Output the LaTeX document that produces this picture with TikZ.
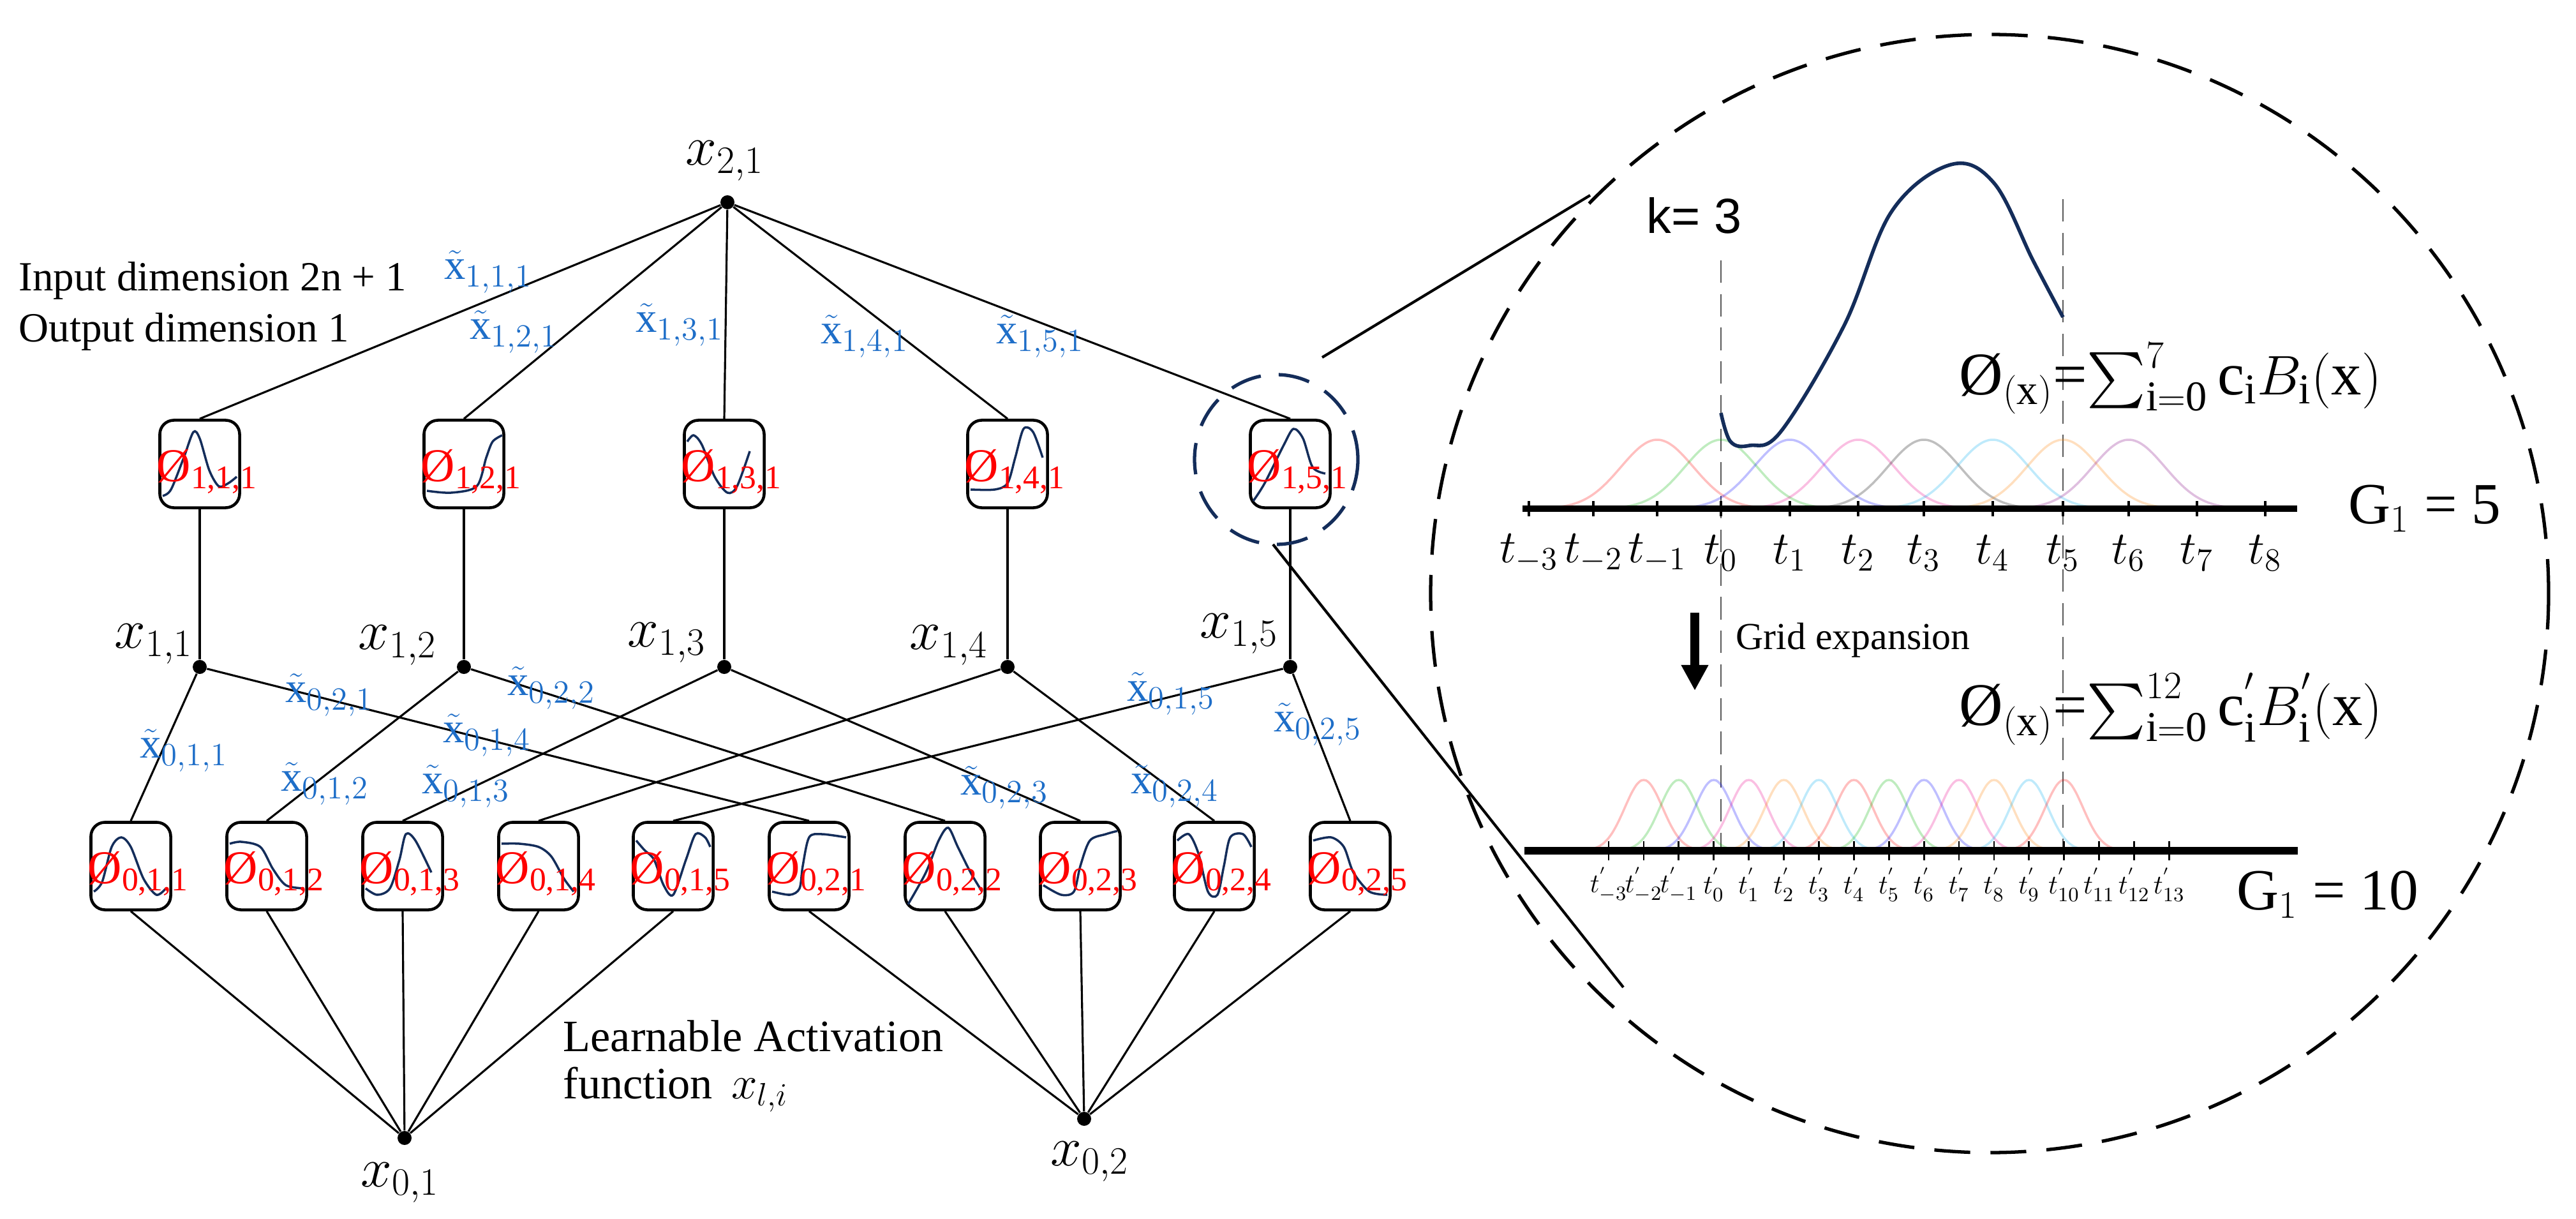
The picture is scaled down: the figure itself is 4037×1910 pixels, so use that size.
\documentclass[tikz,border=0pt]{standalone}
\usepackage{exscale}
\usepackage{fontspec}
\setmainfont{Liberation Serif}
\newfontfamily\sansf{Liberation Sans}
\usetikzlibrary{arrows.meta}
\definecolor{navy}{RGB}{20,45,90}
\definecolor{lblue}{RGB}{30,110,200}
\tikzset{
  dot/.style={circle,fill=black,inner sep=0pt,minimum size=0.22cm},
  act/.style={draw,line width=1.3pt,rounded corners=0.22cm,minimum width=1.25cm,minimum height=1.37cm,inner sep=0pt},
  edge/.style={line width=0.9pt},
  curve/.style={navy,line width=1pt},
  actlab/.style={text=red,font=\fontsize{21}{21}\selectfont,inner sep=0pt},
  wlab/.style={text=lblue,font=\fontsize{19}{19}\selectfont,inner sep=0pt},
  xlab/.style={font=\fontsize{25}{25}\selectfont,inner sep=0pt},
  tlab/.style={font=\fontsize{20}{20}\selectfont,inner sep=0pt},
  tlabs/.style={font=\fontsize{13}{13}\selectfont,inner sep=0pt},
  vdash/.style={gray!70!black,dashed,dash pattern=on 10pt off 5pt,line width=0.8pt},
}
\newcommand\actbox[5]{%
  \node[act] (#1) at (#2,#3) {};
  \begin{scope}[shift={(#2,#3)}]
    \draw[curve] plot[smooth] coordinates {#5};
    \node[actlab] at (12,12) {Ø\textsubscript{#4}};
  \end{scope}}
\begin{document}
\begin{tikzpicture}[x=0.01cm,y=-0.01cm]
\useasboundingbox (0,0) rectangle (4037,1910);

% ---- nodes
\node[dot] (x21) at (1140,317) {};
\node[xlab] at (1136,252) {$x_{2,1}$};
\foreach \i/\x in {1/313,2/727,3/1135,4/1579,5/2022}{
  \node[dot] (x1\i) at (\x,1045) {};
}
\node[xlab] at (241,1009) {$x_{1,1}$};
\node[xlab] at (623,1011) {$x_{1,2}$};
\node[xlab] at (1045,1007) {$x_{1,3}$};
\node[xlab] at (1487,1011) {$x_{1,4}$};
\node[xlab] at (1942,993) {$x_{1,5}$};
\node[dot] (x01) at (634,1783) {};
\node[dot] (x02) at (1699,1753) {};
\node[xlab] at (627,1853) {$x_{0,1}$};
\node[xlab] at (1708,1820) {$x_{0,2}$};

% ---- top activation boxes
\actbox{p11}{313}{727}{1,1,1}{(-58,50) (-45,40) (-25,-10) (-10,-50) (0,-40) (15,10) (30,35) (45,30) (58,20)}
\actbox{p21}{727}{727}{1,2,1}{(-58,42) (-20,45) (20,35) (35,-10) (45,-35) (60,-45)}
\actbox{p31}{1135}{727}{1,3,1}{(-58,-35) (-48,-45) (-35,-30) (-15,20) (5,45) (20,35) (40,-20)}
\actbox{p41}{1579}{727}{1,4,1}{(-58,40) (-20,40) (0,30) (12,-10) (25,-55) (40,-50) (55,-10)}
\actbox{p51}{2022}{727}{1,5,1}{(-58,58) (-40,30) (-10,-30) (5,-55) (20,-40) (35,5) (55,15)}

% ---- bottom activation boxes
\actbox{q11}{205}{1357}{0,1,1}{(-58,40) (-45,25) (-30,-30) (-15,-45) (0,-30) (20,20) (40,45) (55,35)}
\actbox{q12}{418}{1357}{0,1,2}{(-58,-35) (-40,-38) (-10,-30) (10,5) (30,30) (58,35)}
\actbox{q13}{631}{1357}{0,1,3}{(-58,35) (-40,45) (-20,35) (-5,-10) (5,-50) (20,-40) (45,10)}
\actbox{q14}{844}{1357}{0,1,4}{(-58,-35) (-30,-35) (0,-30) (20,-15) (40,20) (55,40)}
\actbox{q15}{1055}{1357}{0,1,5}{(-58,-40) (-45,-25) (-30,-10) (-15,30) (0,45) (20,-10) (35,-50) (50,-45) (58,-30)}
\actbox{q21}{1268}{1357}{0,2,1}{(-58,40) (-30,45) (-15,35) (-10,0) (0,-45) (20,-50) (58,-45)}
\actbox{q22}{1481}{1357}{0,2,2}{(-58,60) (-30,10) (-10,-40) (5,-60) (20,-30) (40,10) (58,40)}
\actbox{q23}{1693}{1357}{0,2,3}{(-58,30) (-30,45) (-10,40) (0,0) (15,-40) (40,-50) (58,-55)}
\actbox{q24}{1903}{1357}{0,2,4}{(-58,-40) (-40,-50) (-25,-20) (-10,40) (5,45) (15,0) (25,-45) (45,-50) (58,-30)}
\actbox{q25}{2116}{1357}{0,2,5}{(-58,-40) (-30,-45) (-10,-30) (5,10) (30,40) (58,45)}

% ---- connectors
\foreach \i in {1,...,5}{
  \draw[edge] (x21) -- (p\i1.north);
  \draw[edge] (p\i1.south) -- (x1\i);
  \draw[edge] (x1\i) -- (q1\i.north);
  \draw[edge] (x1\i) -- (q2\i.north);
  \draw[edge] (q1\i.south) -- (x01);
  \draw[edge] (q2\i.south) -- (x02);
}

% ---- weight labels
\node[wlab] at (765,426) {$\tilde{\mathrm{x}}_{1,1,1}$};
\node[wlab] at (805,520) {$\tilde{\mathrm{x}}_{1,2,1}$};
\node[wlab] at (1065,509) {$\tilde{\mathrm{x}}_{1,3,1}$};
\node[wlab] at (1355,527) {$\tilde{\mathrm{x}}_{1,4,1}$};
\node[wlab] at (1630,527) {$\tilde{\mathrm{x}}_{1,5,1}$};
\node[wlab] at (516,1089) {$\tilde{\mathrm{x}}_{0,2,1}$};
\node[wlab] at (864,1078) {$\tilde{\mathrm{x}}_{0,2,2}$};
\node[wlab] at (763,1152) {$\tilde{\mathrm{x}}_{0,1,4}$};
\node[wlab] at (288,1176) {$\tilde{\mathrm{x}}_{0,1,1}$};
\node[wlab] at (509,1228) {$\tilde{\mathrm{x}}_{0,1,2}$};
\node[wlab] at (730,1232) {$\tilde{\mathrm{x}}_{0,1,3}$};
\node[wlab] at (1574,1234) {$\tilde{\mathrm{x}}_{0,2,3}$};
\node[wlab] at (1841,1232) {$\tilde{\mathrm{x}}_{0,2,4}$};
\node[wlab] at (1835,1087) {$\tilde{\mathrm{x}}_{0,1,5}$};
\node[wlab] at (2065,1135) {$\tilde{\mathrm{x}}_{0,2,5}$};

% ---- texts
\node[anchor=west,inner sep=0pt,font=\fontsize{18.5}{18.5}\selectfont] at (29,440) {Input dimension 2n + 1};
\node[anchor=west,inner sep=0pt,font=\fontsize{18.5}{18.5}\selectfont] at (29,520) {Output dimension 1};
\node[anchor=west,inner sep=0pt,font=\fontsize{20}{20}\selectfont] at (882,1623) {Learnable Activation};
\node[anchor=west,inner sep=0pt,font=\fontsize{20}{20}\selectfont] at (882,1707) {function\, $x_{l,i}$};

% ---- zoom circles
\draw[navy,line width=1.5pt,dash pattern=on 14pt off 8pt] (2000,720) ellipse [x radius=128, y radius=133];
\draw[line width=1.5pt,dash pattern=on 16pt off 9pt] (3118,930) circle [radius=876];
\coordinate (ct) at (2492,306);
\coordinate (cb) at (2544,1547);
\coordinate (st) at (2072,560);
\coordinate (sb) at (1995,853);
\draw[line width=1.2pt] (st) -- (ct);
\draw[line width=1.2pt] (sb) -- (cb);

% ---- right panel: first grid
\node[anchor=west,inner sep=0pt,font=\sansf\fontsize{22}{22}\selectfont] at (2580,338) {k= 3};
\draw[vdash] (2697,408) -- (2697,1330);
\draw[vdash] (3233,312) -- (3233,1330);
\foreach \c/\col in {2597/red,2697/green!70!black,2805/blue,2912/magenta,3015/black,3123/cyan,3233/orange,3336/violet}{
  \draw[\col,opacity=0.25,line width=1pt] plot[smooth,domain=\c-210:\c+210,samples=40] (\x,{797-108*exp(-((\x-\c)/80)^2)});
}
\draw[line width=3pt] (2386,797) -- (3600,797);
\foreach \x/\l in {2396/-3,2497/-2,2597/-1,2697/0,2805/1,2912/2,3015/3,3123/4,3233/5,3336/6,3443/7,3550/8}{
  \draw[line width=1pt] (\x,785) -- (\x,809);
  \node[tlab] at (\x,867) {$t_{\l}$};
}
\draw[navy,line width=1.6pt] plot[smooth,tension=0.6] coordinates {(2697,647) (2712,692) (2742,698) (2791,676) (2890,510) (2964,332) (3057,258) (3125,287) (3186,408) (3233,497)};
\node[anchor=west,inner sep=0pt,font=\fontsize{27}{27}\selectfont] at (3070,593) {Ø$_{(\mathrm{x})}$=$\sum\nolimits_{\mathrm{i=0}}^{7}\mathrm{c_i}B_{\mathrm{i}}(\mathrm{x})$};
\node[anchor=west,inner sep=0pt,font=\fontsize{26}{26}\selectfont] at (3680,797) {G$_1$ = 5};

% ---- grid expansion
\draw[-{Triangle[width=0.4cm,length=0.4cm]},line width=4pt] (2656,960) -- (2656,1082);
\node[anchor=west,inner sep=0pt,font=\fontsize{17}{17}\selectfont] at (2720,1003) {Grid expansion};
\node[anchor=west,inner sep=0pt,font=\fontsize{27}{27}\selectfont] at (3070,1111) {Ø$_{(\mathrm{x})}$=$\sum\nolimits_{\mathrm{i=0}}^{12}\mathrm{c_i^{'}}B^{'}_{\mathrm{i}}(\mathrm{x})$};
\foreach \k [evaluate=\k as \c using 2521+(\k+2)*54.9] in {-1,0,...,11}{
  \pgfmathsetmacro\hue{mod(\k+1,6)}
  \ifcase\numexpr\hue\relax
    \def\col{red}\or\def\col{green!70!black}\or\def\col{blue}\or\def\col{magenta}\or\def\col{orange}\or\def\col{cyan}\fi
  \draw[\col,opacity=0.25,line width=1pt] plot[smooth,domain=\c-110:\c+110,samples=30] (\x,{1333-111*exp(-((\x-\c)/42)^2)});
}
\draw[line width=3.5pt] (2389,1333) -- (3601,1333);
\foreach \k [evaluate=\k as \x using 2521+(\k+3)*54.9] in {-3,-2,...,13}{
  \draw[line width=0.8pt] (\x,1318) -- (\x,1348);
  \node[tlabs] at (\x,1386) {$t^{'}_{\k}$};
}
\node[anchor=west,inner sep=0pt,font=\fontsize{26}{26}\selectfont] at (3505,1402) {G$_1$ = 10};
\end{tikzpicture}
\end{document}
